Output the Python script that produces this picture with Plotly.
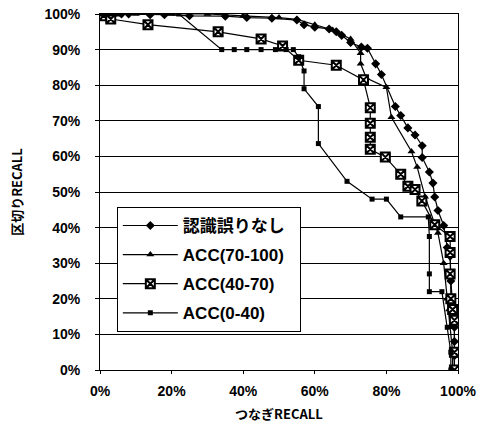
import plotly.graph_objects as go

# 認識誤りなし
s1_x = [0, 1, 2, 3, 4, 6, 8, 14, 18, 25, 35, 41, 48, 55, 57, 60, 64, 66, 67.5, 70, 73, 74.7, 77, 78.6, 82.5, 84, 86, 88, 90, 90, 92, 93, 93.5, 94.4, 96, 97, 97.8, 98, 98.5, 99, 99, 99, 99]
s1_y = [100, 100, 100, 100, 100, 100, 100, 99.8, 99.8, 99.5, 99.4, 99, 98.8, 98.3, 97, 96.3, 95.8, 95, 94, 92, 90.7, 90.4, 86, 83, 74, 71.5, 68, 66, 63, 59.7, 55.6, 52.5, 48.6, 44.8, 40.6, 34.4, 32, 25, 18, 12, 8, 4, 0]

# ACC(70-100)
s2_x = [0, 2, 5, 10, 20, 30, 40, 50, 55, 60, 65, 70, 72.8, 72.8, 74.4, 80, 81.4, 87, 88.6, 90.8, 94.4, 96, 97, 97.5, 98, 98.5, 98.5]
s2_y = [100, 100, 100, 100, 100, 100, 99.5, 99, 98.5, 97, 95.5, 93, 89, 86, 82, 79.4, 71, 61.4, 57, 48.7, 38.5, 30, 20, 17, 12, 5, 0]

# ACC(40-70)
s3_x = [0, 1, 3, 13.4, 33, 45, 51, 55.5, 66, 73.6, 75.5, 75.5, 75.5, 75.5, 79.7, 84, 86, 88, 89.9, 93.5, 97.8, 97.8, 97.8, 98, 98.5, 99, 99, 99]
s3_y = [100, 99.5, 98.6, 97, 95, 93, 91, 87, 85.6, 81.5, 73.7, 69.3, 65.4, 62, 59.8, 55, 51.6, 50.7, 47.5, 40.8, 37.5, 33, 27, 20, 17, 14, 5, 0]

# ACC(0-40)
s4_x = [0, 1, 2, 3, 5, 22, 34, 37.5, 41, 45, 49, 52, 54, 55.5, 57, 57, 61, 61, 69, 76, 80, 84, 91.7, 92, 92, 92, 95.5, 97, 98, 98]
s4_y = [100, 100, 100, 100, 100, 100, 90, 90, 90, 90, 90, 90, 90, 88, 84, 79, 74, 63.6, 53, 48, 48, 43, 43, 37.5, 27, 22, 22, 12, 5, 0]

names = ["認識誤りなし\u00a0\u00a0", "ACC(70-100)", "ACC(40-70)", "ACC(0-40)"]
x_ticks = [0, 20, 40, 60, 80, 100]
y_ticks = [0, 10, 20, 30, 40, 50, 60, 70, 80, 90, 100]

fig = go.Figure()
fig.add_trace(go.Scatter(x=s1_x, y=s1_y, name=names[0], mode="lines+markers", legendgroup="a",
                         line=dict(color="black", width=1.2),
                         marker=dict(symbol="diamond", size=7, color="black")))
fig.add_trace(go.Scatter(x=s2_x, y=s2_y, name=names[1], mode="lines+markers", legendgroup="b",
                         line=dict(color="black", width=1.2),
                         marker=dict(symbol="triangle-up", size=7, color="black")))
fig.add_trace(go.Scatter(x=s3_x, y=s3_y, name=names[2], mode="lines+markers", legendgroup="c",
                         line=dict(color="black", width=1.2),
                         marker=dict(symbol="square-x", size=9, color="white",
                                     line=dict(color="black", width=2))))
fig.add_trace(go.Scatter(x=s4_x, y=s4_y, name=names[3], mode="lines+markers", legendgroup="d",
                         line=dict(color="black", width=1.2),
                         marker=dict(symbol="square", size=5, color="black")))

tickfont = dict(family="Liberation Sans, Arial", size=14, color="black", weight="bold")
fig.update_layout(
    width=481, height=437,
    margin=dict(l=100, r=23, t=14, b=67),
    paper_bgcolor="white", plot_bgcolor="white",
    font=dict(family="Noto Sans CJK JP, Liberation Sans", color="black"),
    legend=dict(x=0.047, y=0.458, xanchor="left", yanchor="top",
                bgcolor="white", bordercolor="black", borderwidth=1,
                font=dict(family="Liberation Sans, Noto Sans CJK JP", size=17, color="black", weight="bold"),
                itemwidth=55, tracegroupgap=4),
    showlegend=True,
)
fig.update_xaxes(range=[0, 100], tickvals=x_ticks, ticktext=[f"{v}%" for v in x_ticks],
                 showgrid=False, showline=True, linecolor="black", linewidth=1, mirror=True,
                 ticks="outside", ticklen=3, tickcolor="black", tickfont=tickfont, zeroline=False,
                 ticklabelstandoff=5, automargin=False,
                 title=dict(text="つなぎRECALL", font=dict(family="Noto Sans CJK JP", size=13, color="black", weight="bold"), standoff=12))
fig.update_yaxes(range=[0, 100], tickvals=y_ticks, ticktext=[f"{v}%" for v in y_ticks],
                 showgrid=True, gridcolor="black", gridwidth=1,
                 showline=True, linecolor="black", linewidth=1, mirror=True,
                 ticks="outside", ticklen=4, tickcolor="black", tickfont=tickfont, zeroline=False,
                 ticklabelstandoff=12, automargin=False,
                 title=dict(text="区切りRECALL", font=dict(family="Noto Sans CJK JP", size=13, color="black", weight="bold"), standoff=18))

fig.write_html("out.html", config={"displayModeBar": False},
               post_script="document.body.style.margin='0';")
